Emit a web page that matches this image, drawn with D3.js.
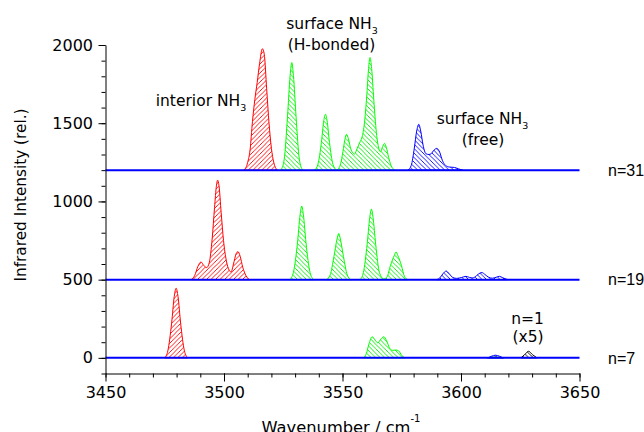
<!DOCTYPE html>
<html>
<head>
<meta charset="utf-8">
<script src="https://cdn.jsdelivr.net/npm/d3@7"></script>
<style>
  body { margin: 0; background: #fff; }
  svg { display: block; }
</style>
</head>
<body>
<svg id="chart" width="644" height="432"></svg>
<script>
// ticks
var xMajor = [3450, 3500, 3550, 3600, 3650];
var yMajor = [0, 500, 1000, 1500, 2000];
var xMinor = d3.range(3450, 3651, 10);
var yMinor = d3.range(-100, 2001, 100);

// cluster traces, stacked on these baselines
var offsets = [1200, 500, 0];
var offsetLabels = ["n=31", "n=19", "n=7"];

// band outlines: [wavenumber, intensity above the trace baseline]
var n31Interior = [[3508.5,0],[3510,50],[3511,130],[3512,310],[3513,450],[3514,560],[3515,680],[3516.2,776],[3517,740],[3518,520],[3519,300],[3520,140],[3521,50],[3522.5,0]];
var n31BondedA = [[3524,0],[3525.4,69],[3526.8,343],[3527.9,605],[3528.6,688],[3529.3,605],[3530.4,343],[3531.8,69],[3533.2,0]];
var n31BondedB = [[3538.2,0],[3539.6,36],[3541.1,178],[3542.1,316],[3542.8,357],[3543.5,316],[3544.5,178],[3546,36],[3547.5,0]];
var n31BondedC = [[3547.6,0],[3549.2,40],[3550.2,120],[3551,195],[3551.7,229],[3552.5,200],[3553.5,135],[3555.1,103],[3556.2,140],[3557.4,181],[3558.4,220],[3559.4,320],[3560.3,490],[3561,650],[3561.6,720],[3562.3,650],[3563.2,450],[3564.3,240],[3565.3,140],[3566,117],[3566.9,150],[3567.7,171],[3568.5,145],[3569.5,80],[3570.5,30],[3572,0]];
var n31Free = [[3577.6,0],[3579,30],[3580.3,140],[3581.3,250],[3582.2,293],[3583,250],[3584,160],[3585.2,105],[3586.5,100],[3587.4,105],[3588.6,128],[3589.8,139],[3591,115],[3592.2,60],[3593.5,30],[3595,20],[3597.3,17],[3599,8],[3600.7,0]];

var n19Interior = [[3486.1,0],[3487.6,25],[3489,85],[3490.3,113],[3491.5,90],[3492.7,77],[3493.8,110],[3495,260],[3496,460],[3496.8,600],[3497.3,636],[3497.9,600],[3498.8,430],[3499.8,250],[3501,120],[3502.2,60],[3503,49],[3504,100],[3505.1,165],[3505.9,179],[3506.8,150],[3507.9,80],[3509.3,25],[3510.8,0]];
var n19BondedA = [[3527.8,0],[3529.3,47],[3531,235],[3532.1,414],[3532.8,470],[3533.5,414],[3534.6,235],[3536.3,47],[3537.8,0]];
var n19BondedB = [[3543.2,0],[3544.8,30],[3546.4,148],[3547.7,260],[3548.4,295],[3549.1,260],[3550.4,148],[3552,30],[3553.4,0]];
var n19BondedC = [[3557.4,0],[3558.8,45],[3560.4,226],[3561.5,397],[3562.2,451],[3562.9,397],[3564,226],[3565.6,45],[3567.4,5],[3568.8,18],[3570.2,89],[3571.9,156],[3572.6,177],[3573.3,156],[3574.9,89],[3576.2,18],[3577.5,0]];
var n19Free = [[3589.5,0],[3591,10],[3592.4,38],[3593.7,55],[3595,38],[3596.5,14],[3598.2,8],[3600.3,14],[3602.1,21],[3603.6,14],[3605,11],[3606.6,26],[3608,42],[3608.9,45],[3610,34],[3611.6,16],[3613.2,9],[3614.8,15],[3616.2,21],[3617.6,12],[3619.7,0]];

var n7Interior = [[3475,0],[3476.3,45],[3477.9,222],[3479,392],[3479.8,445],[3480.6,392],[3481.7,222],[3483.3,45],[3484.7,0]];
var n7Bonded = [[3558.8,0],[3560,25],[3561.2,90],[3562.5,135],[3563.7,115],[3564.9,96],[3566.2,120],[3567.4,135],[3568.6,110],[3569.8,65],[3571,48],[3572.5,50],[3573.7,45],[3575,15],[3576.4,0]];
var n7BondedSmall = [[3611,0],[3614.5,6],[3618,0]];
var n7Free = [[3611.3,0],[3612.8,10],[3614.6,17],[3616.3,10],[3617.8,0]];
var n1Scaled = [[3625.3,0],[3626.8,20],[3628.5,42],[3630.2,20],[3632,0]];

var bands = [
  {pts: n31Interior, base: 1200, color: "#ff0000", hatch: "hRed"},
  {pts: n31BondedA, base: 1200, color: "#00ff00", hatch: "hGreen"},
  {pts: n31BondedB, base: 1200, color: "#00ff00", hatch: "hGreen"},
  {pts: n31BondedC, base: 1200, color: "#00ff00", hatch: "hGreen"},
  {pts: n31Free, base: 1200, color: "#0000ff", hatch: "hBlue"},
  {pts: n19Interior, base: 500, color: "#ff0000", hatch: "hRed"},
  {pts: n19BondedA, base: 500, color: "#00ff00", hatch: "hGreen"},
  {pts: n19BondedB, base: 500, color: "#00ff00", hatch: "hGreen"},
  {pts: n19BondedC, base: 500, color: "#00ff00", hatch: "hGreen"},
  {pts: n19Free, base: 500, color: "#0000ff", hatch: "hBlue"},
  {pts: n7Interior, base: 0, color: "#ff0000", hatch: "hRed"},
  {pts: n7Bonded, base: 0, color: "#00ff00", hatch: "hGreen"},
  {pts: n7BondedSmall, base: 0, color: "#00aa00", hatch: "hGreen"},
  {pts: n7Free, base: 0, color: "#0000ff", hatch: "hBlue"},
  {pts: n1Scaled, base: 0, color: "#000000", hatch: "hBlack"}
];

var font = "DejaVu Sans, sans-serif";
var svg = d3.select("#chart");

var x = d3.scaleLinear().domain([3450, 3650]).range([105.5, 579.5]);
var y = d3.scaleLinear().domain([-100, 2000]).range([373.5, 45]);

// hatch fills
var defs = svg.append("defs");
function hatch(id, color, dir) {
  var s = 4.5;
  var d = dir === "/"
    ? "M0," + s + "L" + s + ",0M-1,1L1,-1M" + (s - 1) + "," + (s + 1) + "L" + (s + 1) + "," + (s - 1)
    : "M0,0L" + s + "," + s + "M-1," + (s - 1) + "L1," + (s + 1) + "M" + (s - 1) + ",-1L" + (s + 1) + ",1";
  defs.append("pattern")
    .attr("id", id)
    .attr("patternUnits", "userSpaceOnUse")
    .attr("width", s).attr("height", s)
    .append("path")
    .attr("d", d)
    .attr("stroke", color)
    .attr("stroke-width", 0.9)
    .attr("fill", "none");
}
hatch("hRed", "#ff0000", "/");
hatch("hGreen", "#00ee00", "\\");
hatch("hBlue", "#0000ff", "\\");
hatch("hBlack", "#000000", "\\");

function bandArea(base) {
  return d3.area()
    .curve(d3.curveMonotoneX)
    .x(function(d) { return x(d[0]); })
    .y0(y(base))
    .y1(function(d) { return y(base + d[1]); });
}

var plot = svg.append("g");
bands.forEach(function(b) {
  plot.append("path")
    .datum(b.pts)
    .attr("d", bandArea(b.base))
    .attr("fill", "url(#" + b.hatch + ")")
    .attr("stroke", b.color)
    .attr("stroke-width", 1);
});

// baselines
plot.selectAll("line.base")
  .data(offsets)
  .enter().append("line")
  .attr("class", "base")
  .attr("x1", x(3450)).attr("x2", x(3650))
  .attr("y1", function(d) { return y(d); })
  .attr("y2", function(d) { return y(d); })
  .attr("stroke", "#0000ff")
  .attr("stroke-width", 2);

// axes
var xg = svg.append("g").attr("transform", "translate(0," + y(-100) + ")");
xg.append("g")
  .call(d3.axisBottom(x).tickValues(xMinor).tickSize(4).tickFormat("").tickSizeOuter(0))
  .call(function(g) { g.select(".domain").remove(); });
xg.append("g")
  .call(d3.axisBottom(x).tickValues(xMajor).tickSize(8).tickPadding(5.5).tickFormat(d3.format("d")).tickSizeOuter(0));

var yg = svg.append("g").attr("transform", "translate(" + x(3450) + ",0)");
yg.append("g")
  .call(d3.axisLeft(y).tickValues(yMinor).tickSize(4).tickFormat("").tickSizeOuter(0))
  .call(function(g) { g.select(".domain").remove(); });
yg.append("g")
  .call(d3.axisLeft(y).tickValues(yMajor).tickSize(7).tickPadding(5.5).tickFormat(d3.format("d")).tickSizeOuter(0));

svg.selectAll(".tick text")
  .attr("font-family", font)
  .attr("font-size", 16)
  .attr("fill", "#000");
svg.selectAll(".domain, .tick line").attr("stroke", "#000");

// axis titles
svg.append("text")
  .attr("transform", "translate(25.5,195) rotate(-90)")
  .attr("text-anchor", "middle")
  .attr("font-family", font)
  .attr("font-size", 15.3)
  .text("Infrared Intensity (rel.)");

var xt = svg.append("text")
  .attr("x", 341).attr("y", 433)
  .attr("text-anchor", "middle")
  .attr("font-family", font)
  .attr("font-size", 16.3)
  .text("Wavenumber / cm");
xt.append("tspan").attr("dy", -11).attr("font-size", 10).text("-1");

// annotations
function label(cx, by, main, sub) {
  var t = svg.append("text")
    .attr("x", cx).attr("y", by)
    .attr("text-anchor", "middle")
    .attr("font-family", font)
    .attr("font-size", 15.5)
    .text(main);
  if (sub) t.append("tspan").attr("dy", 5).attr("font-size", 9.5).text(sub);
}
label(201, 106, "interior NH", "3");
label(332, 28.5, "surface NH", "3");
label(331.5, 50, "(H-bonded)");
label(482.5, 124, "surface NH", "3");
label(483, 145, "(free)");
label(527.5, 323.5, "n=1");
label(528, 342, "(x5)");

svg.selectAll("text.nlab")
  .data(offsets)
  .enter().append("text")
  .attr("class", "nlab")
  .attr("x", 608)
  .attr("y", function(d) { return y(d) + 5.7; })
  .attr("font-family", "Liberation Sans, Arial, sans-serif")
  .attr("font-size", 16)
  .text(function(d, i) { return offsetLabels[i]; });
</script>
</body>
</html>
